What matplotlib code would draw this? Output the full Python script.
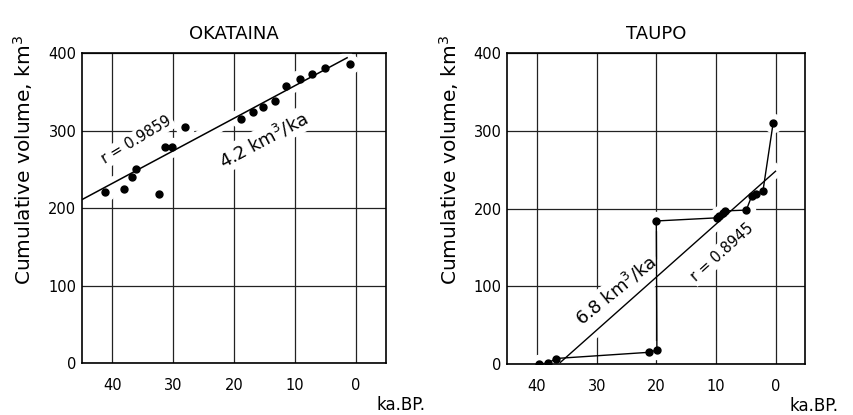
import matplotlib
matplotlib.use("Agg")
import matplotlib.pyplot as plt
import matplotlib.patheffects as pe
import numpy as np

# Okataina: eruption age (ka BP) vs cumulative volume (km3)
oka_age = [41.2, 38.1, 36.7, 36.1, 32.3, 31.3, 30.2, 28.0, 18.9, 16.8,
           15.2, 13.2, 11.5, 9.1, 7.1, 5.1, 1.0]
oka_vol = [221, 225, 240, 251, 218, 279, 279, 305, 315, 324,
           330, 338, 357, 367, 373, 381, 386]
oka_fit_age = [45.0, 1.4]
oka_fit_vol = [211, 394]

# Taupo: cumulative curve (connected) plus regression line
tau_age = [39.7, 38.1, 36.9, 21.2, 19.9, 20.0, 9.9, 9.4, 8.8, 8.4,
           4.9, 4.0, 3.2, 2.1, 0.4]
tau_vol = [0, 1, 7, 15, 18, 184, 188, 191, 194, 197,
           198, 216, 219, 223, 310]
tau_fit_age = [36.1, 0.0]
tau_fit_vol = [2, 248]

titles = ["OKATAINA", "TAUPO"]
rate_labels = ["4.2 km$^3$/ka", "6.8 km$^3$/ka"]
r_labels = ["r = 0.9859", "r = 0.8945"]

halo = [pe.Stroke(linewidth=9, foreground="white"), pe.Normal()]
white_box = dict(facecolor="white", edgecolor="none", pad=1.5)

fig = plt.figure(figsize=(8.54, 4.15), dpi=100)
ax1 = fig.add_axes([0.096, 0.125, 0.356, 0.747])
ax2 = fig.add_axes([0.594, 0.123, 0.349, 0.749])


def style_axes(ax, title, xlab_x):
    ax.set_xlim(45, -5)
    ax.set_ylim(0, 400)
    ax.set_xticks([40, 30, 20, 10, 0])
    ax.set_yticks([0, 100, 200, 300, 400])
    ax.tick_params(length=0, labelsize=10.5, pad=4)
    ax.tick_params(axis="x", pad=11)
    ax.set_axisbelow(True)
    ax.grid(True, color="#222222", linewidth=0.9)
    for s in ax.spines.values():
        s.set_linewidth(1.2)
        s.set_zorder(5)
    ax.set_title(title, fontsize=13, pad=10)
    ax.set_ylabel("Cumulative volume, km$^3$", fontsize=14.5)
    ax.yaxis.set_label_coords(-0.155, 0.655)
    ax.text(xlab_x, -0.135, "ka.BP.", transform=ax.transAxes, ha="center",
            va="center", fontsize=12, clip_on=False)


style_axes(ax1, titles[0], 1.05)
style_axes(ax2, titles[1], 1.03)

# OKATAINA
ax1.plot(oka_age, oka_vol, "o", color="white", markersize=13, zorder=1)
ax1.plot(oka_fit_age, oka_fit_vol, color="black", linewidth=1.1,
         path_effects=halo, zorder=2)
ax1.plot(oka_age, oka_vol, "o", color="black", markersize=5, zorder=4)
ax1.text(36.0, 288, r_labels[0], rotation=31, ha="center", va="center",
         fontsize=10.5, bbox=white_box, zorder=3)
ax1.text(15.2, 288, rate_labels[0], rotation=28, ha="center", va="center",
         fontsize=13, bbox=white_box, zorder=3)

# TAUPO
ax2.plot(tau_age, tau_vol, "o", color="white", markersize=13, zorder=1)
ax2.plot(tau_fit_age, tau_fit_vol, color="black", linewidth=1.0,
         path_effects=halo, zorder=2)
ax2.plot(tau_age, tau_vol, "-o", color="black", linewidth=1.0,
         markersize=5, zorder=4)
ax2.text(26.7, 95, rate_labels[1], rotation=39, ha="center", va="center",
         fontsize=13, bbox=white_box, zorder=3)
ax2.text(9.0, 144, r_labels[1], rotation=42, ha="center", va="center",
         fontsize=10.5, bbox=white_box, zorder=3)

fig.savefig("out.png", dpi=100)
